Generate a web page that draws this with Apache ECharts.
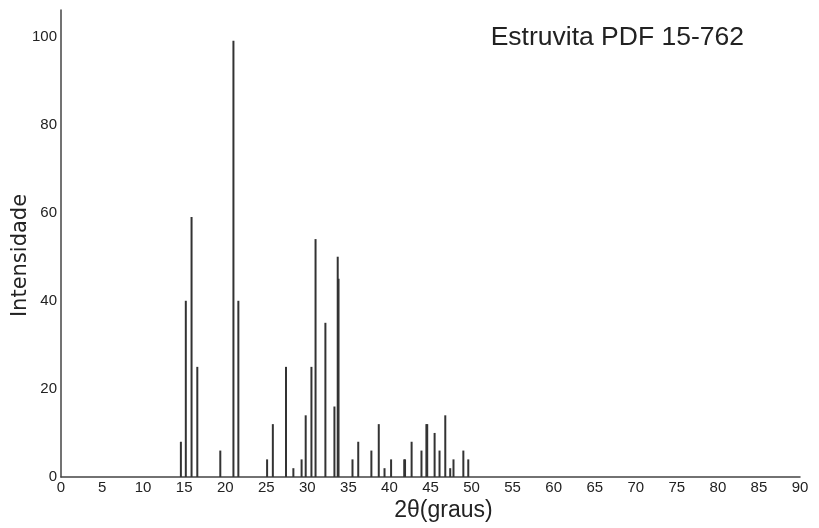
<!DOCTYPE html>
<html>
<head>
    <meta charset="UTF-8"/>
    <script type="text/javascript" src="https://cdn.jsdelivr.net/npm/echarts@6.0.0/dist/echarts.min.js"></script>
    <title>Estruvita PDF 15-762</title>
    <style>
        html, body {margin: 0; padding: 0; background: #fff;}
        #main {width: 819px; height: 528px;}
    </style>
</head>
<body>
<div id="main"></div>
<script type="text/javascript">
    // posições dos picos (2θ) e intensidades relativas
    var twoTheta = [14.6, 15.2, 15.9, 16.6, 19.4, 21.0, 21.6, 25.1, 25.8, 27.4, 28.3, 29.3, 29.8, 30.5, 31.0,
        32.2, 33.3, 33.7, 33.8, 35.5, 36.2, 37.8, 38.7, 39.4, 40.2, 41.8, 41.9, 42.7, 43.9, 44.5, 44.6,
        45.5, 46.1, 46.8, 47.4, 47.8, 49.0, 49.6]
    var intensity = [8, 40, 59, 25, 6, 99, 40, 4, 12, 25, 2, 4, 14, 25, 54,
        35, 16, 50, 45, 4, 8, 6, 12, 2, 4, 4, 4, 8, 6, 12, 12,
        10, 6, 14, 2, 4, 6, 4]
    var xTicks = [0, 90, 5]
    var yTicks = [0, 106, 20]

    var peaks = []
    for (var i = 0; i < twoTheta.length; i++) {
        peaks.push([twoTheta[i], intensity[i]])
    }

    var myChart = echarts.init(document.getElementById('main'))
    var option = {
        animation: false,
        title: {
            text: 'Estruvita PDF 15-762',
            right: 70,
            top: 19,
            textStyle: {
                fontFamily: 'Liberation Sans',
                fontWeight: 'normal',
                fontSize: 26.5,
                color: '#222'
            }
        },
        grid: {left: 61, right: 19, top: 10, bottom: 51, outerBoundsMode: 'none'},
        xAxis: {
            type: 'value',
            min: xTicks[0],
            max: xTicks[1],
            interval: xTicks[2],
            name: '2θ(graus)',
            nameLocation: 'middle',
            nameGap: 22,
            nameMoveOverlap: false,
            nameTextStyle: {fontFamily: 'Liberation Sans', fontSize: 23, color: '#222', padding: [0, 0, 0, 26]},
            axisLine: {lineStyle: {color: '#444', width: 1.5}},
            axisTick: {show: false},
            splitLine: {show: false},
            axisLabel: {
                margin: 3,
                fontFamily: 'Liberation Sans',
                fontSize: 15,
                color: '#222'
            }
        },
        yAxis: {
            type: 'value',
            min: yTicks[0],
            max: yTicks[1],
            interval: yTicks[2],
            name: 'Intensidade',
            nameLocation: 'middle',
            nameRotate: 90,
            nameGap: 30,
            nameMoveOverlap: false,
            nameTextStyle: {fontFamily: 'DejaVu Sans', fontSize: 21, color: '#222', padding: [0, 24, 0, 0]},
            axisLine: {show: true, lineStyle: {color: '#444', width: 1.5}},
            axisTick: {show: false},
            splitLine: {show: false},
            axisLabel: {
                showMaxLabel: false,
                margin: 4,
                fontFamily: 'Liberation Sans',
                fontSize: 15,
                color: '#222'
            }
        },
        series: [{
            type: 'bar',
            data: peaks,
            barWidth: 2,
            itemStyle: {color: '#333'}
        }]
    }
    myChart.setOption(option)
</script>
</body>
</html>
